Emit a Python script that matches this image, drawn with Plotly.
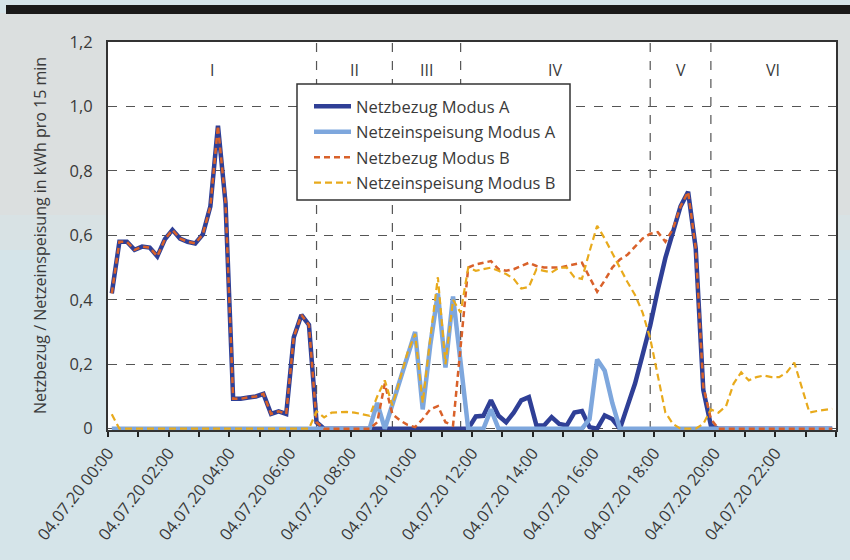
import plotly.graph_objects as go
import pandas as pd
from datetime import datetime, timedelta

# ---------------- data (kWh per 15 min, 96 intervals of 04.07.20) ----------------
netzbezug_a = [
    0.42, 0.58, 0.58, 0.555, 0.565, 0.562, 0.535, 0.588, 0.617, 0.59, 0.58, 0.575,
    0.603, 0.69, 0.94, 0.70, 0.093, 0.093, 0.097, 0.10, 0.108, 0.046, 0.054, 0.046,
    0.284, 0.353, 0.322, 0.02, 0, 0, 0, 0, 0, 0, 0, 0,
    0, 0, 0, 0, 0, 0, 0, 0, 0, 0, 0, 0,
    0.038, 0.04, 0.088, 0.04, 0.02, 0.05, 0.088, 0.098, 0.01, 0.01, 0.036, 0.015,
    0.01, 0.05, 0.055, 0.005, 0.0, 0.041, 0.03, 0.0, 0.07, 0.14, 0.23, 0.32,
    0.43, 0.53, 0.61, 0.69, 0.735, 0.56, 0.12, 0.01, 0, 0, 0, 0,
    0, 0, 0, 0, 0, 0, 0, 0, 0, 0, 0, 0,
]
netzeinspeisung_a = [
    0, 0, 0, 0, 0, 0, 0, 0, 0, 0, 0, 0,
    0, 0, 0, 0, 0, 0, 0, 0, 0, 0, 0, 0,
    0, 0, 0, 0, 0, 0, 0, 0, 0, 0, 0, 0.08,
    0.0, 0.075, 0.15, 0.225, 0.30, 0.06, 0.26, 0.42, 0.19, 0.41, 0.19, 0.0,
    0.0, 0.0, 0.06, 0, 0, 0, 0, 0, 0, 0, 0, 0,
    0, 0, 0, 0.03, 0.215, 0.18, 0.08, 0, 0, 0, 0, 0,
    0, 0, 0, 0, 0, 0, 0, 0, 0, 0, 0, 0,
    0, 0, 0, 0, 0, 0, 0, 0, 0, 0, 0, 0,
]
netzbezug_b = [
    0.42, 0.58, 0.58, 0.555, 0.565, 0.562, 0.535, 0.588, 0.617, 0.59, 0.58, 0.575,
    0.603, 0.69, 0.94, 0.70, 0.093, 0.093, 0.097, 0.10, 0.108, 0.046, 0.054, 0.046,
    0.284, 0.353, 0.322, 0.02, 0, 0, 0, 0, 0, 0, 0, 0.02,
    0.14, 0.045, 0.026, 0.012, 0.005, 0.03, 0.06, 0.07, 0.02, 0.01, 0.26, 0.50,
    0.51, 0.515, 0.52, 0.495, 0.49, 0.495, 0.505, 0.515, 0.505, 0.50, 0.50, 0.50,
    0.505, 0.51, 0.515, 0.47, 0.425, 0.46, 0.50, 0.525, 0.54, 0.565, 0.59, 0.605,
    0.61, 0.58, 0.62, 0.69, 0.735, 0.56, 0.13, 0.03, 0, 0, 0, 0,
    0, 0, 0, 0, 0, 0, 0, 0, 0, 0, 0, 0,
]
netzeinspeisung_b = [
    0.045, 0, 0, 0, 0, 0, 0, 0, 0, 0, 0, 0,
    0, 0, 0, 0, 0, 0, 0, 0, 0, 0, 0, 0,
    0, 0, 0, 0.054, 0.035, 0.05, 0.052, 0.052, 0.05, 0.045, 0.04, 0.10,
    0.15, 0.072, 0.15, 0.236, 0.294, 0.08, 0.28, 0.47, 0.20, 0.40, 0.36, 0.50,
    0.49, 0.495, 0.50, 0.49, 0.48, 0.465, 0.435, 0.44, 0.495, 0.49, 0.485, 0.50,
    0.50, 0.47, 0.465, 0.55, 0.63, 0.59, 0.545, 0.50, 0.455, 0.415, 0.36, 0.28,
    0.17, 0.05, 0.015, 0.0, 0.0, 0.0, 0.015, 0.06, 0.05, 0.07, 0.14, 0.175,
    0.15, 0.16, 0.165, 0.16, 0.16, 0.175, 0.205, 0.13, 0.05, 0.055, 0.058, 0.062,
]

series_names = ["Netzbezug Modus A", "Netzeinspeisung Modus A",
                "Netzbezug Modus B", "Netzeinspeisung Modus B"]

phase_labels = ["I", "II", "III", "IV", "V", "VI"]
phase_bounds_h = [0, 6.875, 9.375, 11.625, 17.875, 19.875, 24]

x_tick_hours = [0, 2, 4, 6, 8, 10, 12, 14, 16, 18, 20, 22]

y_tickvals = [0, 0.2, 0.4, 0.6, 0.8, 1.0, 1.2]
y_ticktext = ["0", "0,2", "0,4", "0,6", "0,8", "1,0", "1,2"]

y_title = "Netzbezug / Netzeinspeisung in kWh pro 15 min"

# interval midpoints
day0 = datetime(2020, 7, 4)
times = pd.date_range(day0 + timedelta(minutes=7.5), periods=len(netzbezug_a), freq="15min")

# ---------------- styling ----------------
FONT = "'Open Sans', sans-serif"
TXT = "#3a3a3a"
PAPER = "#d5e4e9"
PAPER_TOP = "#dbdfdf"
PAPER_MID = "#d8e2e4"
styles = [
    dict(color="#2f3f96", width=4.5, dash="solid"),
    dict(color="#7ea7dd", width=4.5, dash="solid"),
    dict(color="#d9612a", width=2.5, dash="6px,4px"),
    dict(color="#e8aa1c", width=2.2, dash="7px,4px"),
]

fig = go.Figure()
for k, (name, vals, st) in enumerate(zip(series_names,
                          [netzbezug_a, netzeinspeisung_a, netzbezug_b, netzeinspeisung_b],
                          styles)):
    fig.add_trace(go.Scatter(x=times, y=vals, mode="lines", name=name, line=st,
                             legendgroup=f"g{k}"))

L, R, T, B = 108, 14, 42, 130
W, H = 850, 560
pw, ph = W - L - R, H - T - B

def px_x(px):
    return (px - L) / pw

def px_y(py):
    return (H - B - py) / ph

shapes = []
# greyish upper part of the scanned page (outside the plot area)
for (xa, xb, ya, yb, col) in [(0, W, 13, T, PAPER_TOP), (0, L, T, 215, PAPER_TOP),
                              (W - R, W, T, 215, PAPER_TOP), (0, L, 215, 250, PAPER_MID),
                              (W - R, W, 215, 250, PAPER_MID)]:
    shapes.append(dict(type="rect", xref="paper", yref="paper",
                       x0=px_x(xa), x1=px_x(xb), y0=px_y(yb), y1=px_y(ya),
                       fillcolor=col, line=dict(width=0), layer="below"))
# black bar on top of the page
shapes.append(dict(type="rect", xref="paper", yref="paper",
                   x0=px_x(6), x1=px_x(W + 2), y0=px_y(14), y1=px_y(5),
                   fillcolor="#1a1a1a", line=dict(width=0), layer="above"))
# phase boundaries
for b in phase_bounds_h[1:-1]:
    xb = day0 + timedelta(hours=b)
    shapes.append(dict(type="line", xref="x", yref="paper", x0=xb, x1=xb, y0=0, y1=1,
                       line=dict(color="#555555", width=1.2, dash="dash"), layer="below"))
# legend frame
shapes.append(dict(type="rect", xref="paper", yref="paper",
                   x0=px_x(297), x1=px_x(570), y0=px_y(200), y1=px_y(84),
                   fillcolor="white", line=dict(color="#333333", width=1.5), layer="above"))

annotations = []
for lab, a, b in zip(phase_labels, phase_bounds_h[:-1], phase_bounds_h[1:]):
    annotations.append(dict(x=day0 + timedelta(hours=(a + b) / 2), y=px_y(57),
                            xref="x", yref="paper", text=lab, showarrow=False,
                            font=dict(size=16, color=TXT, family=FONT)))
# y-axis title
annotations.append(dict(x=px_x(40), y=0.5, xref="paper", yref="paper", text=y_title,
                        textangle=-90, showarrow=False, xanchor="center", yanchor="middle",
                        font=dict(size=16, color=TXT, family=FONT)))

fig.update_layout(
    width=W, height=H,
    margin=dict(l=L, r=R, t=T, b=B, autoexpand=False),
    paper_bgcolor=PAPER,
    plot_bgcolor="white",
    font=dict(family=FONT, size=16, color=TXT),
    shapes=shapes,
    annotations=annotations,
    legend=dict(x=px_x(309), y=px_y(89), xanchor="left", yanchor="top",
                bgcolor="rgba(0,0,0,0)", borderwidth=0,
                font=dict(size=16.5, color=TXT, family=FONT),
                tracegroupgap=1, itemwidth=37),
    showlegend=True,
)

fig.update_xaxes(
    type="date", automargin=False,
    range=[day0, day0 + timedelta(hours=24)],
    tickmode="array",
    tickvals=[day0 + timedelta(hours=h) for h in x_tick_hours],
    tickformat="%d.%m.%y %H:%M",
    tickangle=-52,
    ticks="outside", ticklen=5, tickwidth=2, tickcolor="#222",
    minor=dict(dtick=3600 * 1000, tick0=day0, ticks="outside", ticklen=5,
               tickwidth=2, tickcolor="#222", showgrid=False),
    showgrid=False, zeroline=False,
    showline=True, mirror=True, linecolor="#333333", linewidth=2,
    tickfont=dict(size=16.5, color=TXT, family=FONT),
)
fig.update_yaxes(
    automargin=False,
    range=[-0.004, 1.2],
    tickvals=y_tickvals, ticktext=y_ticktext,
    showgrid=True, gridcolor="#555555", gridwidth=1.2, griddash="dash",
    zeroline=False,
    showline=True, mirror=True, linecolor="#333333", linewidth=2,
    ticks="", ticklabelstandoff=10,
    tickfont=dict(size=16.5, color=TXT, family=FONT),
)

fig.write_html(
    "out.html",
    config={"displayModeBar": False},
    post_script=f"document.body.style.margin='0';document.body.style.background='{PAPER}';",
)
